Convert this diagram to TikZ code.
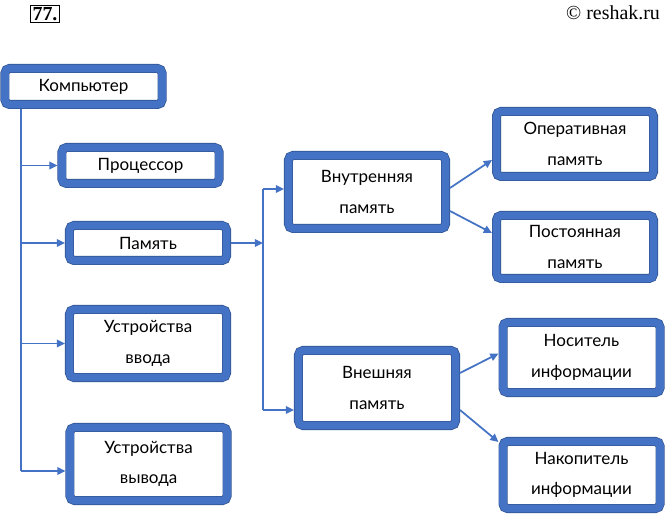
\documentclass[tikz,border=0pt]{standalone}
\usepackage{fontspec}
\setmainfont{Liberation Serif}
\newfontfamily\boxfont{Lato}
\usetikzlibrary{arrows.meta,calc}

\definecolor{boxblue}{HTML}{4472C4}
\definecolor{boxedge}{HTML}{2F528F}

\begin{document}
\begin{tikzpicture}[
    x=0.03cm, y=-0.03cm,
    box/.style={rectangle, draw=boxedge, line width=0.021cm, double=boxblue, double distance=0.228cm, rounded corners=0.135cm, fill=white, outer sep=0.135cm, inner sep=0pt, minimum width=4.71cm, align=center, font=\boxfont\fontsize{14.5}{26}\selectfont},
    line/.style={boxblue, line width=1.5pt},
    arrow/.style={-{Triangle[length=7pt, width=6.5pt]}, boxblue, line width=1.5pt}
]
\useasboundingbox (0,0) rectangle (666,515);

% Header
\node[draw, line width=0.8pt, inner sep=1.5pt, font=\bfseries\fontsize{17}{17}\selectfont] (num) at (45,14) {77.};
\node[anchor=east, font=\fontsize{17}{17}\selectfont] (site) at (664,13) {© reshak.ru};

% Left column
\node[box, minimum height=1.08cm] (komp) at (83.5,86.5) {Компьютер};
\node[box, minimum height=1.08cm] (proc) at (140.5,165.5) {Процессор};
\node[box, minimum height=1.05cm] (pam) at (148,243) {Память};
\node[box, minimum height=2.04cm] (vvod) at (148,343.5) {Устройства\\ввода};
\node[box, minimum height=2.19cm] (vyvod) at (148.5,464) {Устройства\\вывода};

% Memory column
\node[box, minimum height=2.19cm] (vnutr) at (367,192) {Внутренняя\\память};
\node[box, minimum height=2.25cm] (vnesh) at (377,388) {Внешняя\\память};

% Right column
\node[box, minimum height=1.95cm] (oper) at (575,144) {Оперативная\\память};
\node[box, minimum height=1.89cm] (post) at (575,247) {Постоянная\\память};
\node[box, minimum height=2.1cm] (nosit) at (581.5,357.5) {Носитель\\информации};
\node[box, minimum height=2.01cm] (nakop) at (581.5,475) {Накопитель\\информации};

% Trunk from Komputer
\coordinate (trunk) at (21,471);
\draw[line] (komp.south -| trunk) -- (trunk);
\draw[arrow] (proc.west -| trunk) -- (proc.west);
\draw[arrow] (pam.west -| trunk) -- (pam.west);
\draw[arrow] (vvod.west -| trunk) -- (vvod.west);
\draw[arrow] (trunk) -- (trunk -| vyvod.west);

% Trunk from Pamyat
\coordinate (b1) at (263,189);
\coordinate (b2) at (263,410);
\draw[arrow] (pam.east) -- (pam.east -| b1);
\draw[line] (b1) -- (b2);
\draw[arrow] (b1) -- (b1 -| vnutr.west);
\draw[arrow] (b2) -- (b2 -| vnesh.west);

% Branches
\draw[arrow] ($(vnutr.east)+(0,-4)$) -- ($(oper.west)+(0,16)$);
\draw[arrow] ($(vnutr.east)+(0,19)$) -- ($(post.west)+(0,-14)$);
\draw[arrow] ($(vnesh.east)+(0,-15)$) -- ($(nosit.west)+(0,-4)$);
\draw[arrow] ($(vnesh.east)+(0,22)$) -- ($(nakop.west)+(0,-33)$);

\end{tikzpicture}
\end{document}
